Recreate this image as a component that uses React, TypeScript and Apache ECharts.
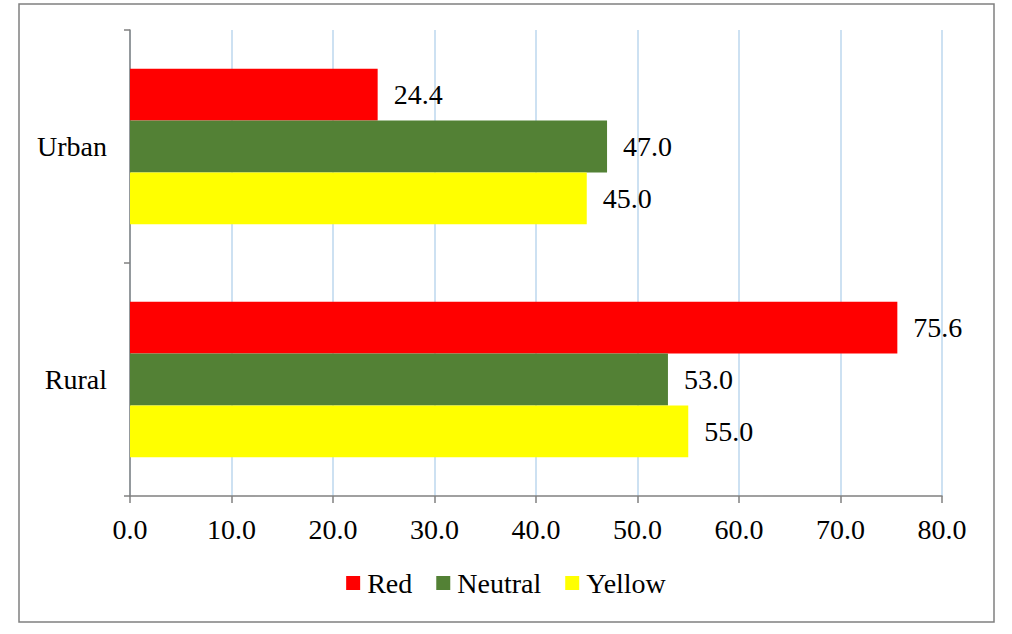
import React, { useEffect, useRef } from "react";
import * as echarts from "echarts";

const categories = ["Urban", "Rural"];
const redValues = [24.4, 75.6];
const neutralValues = [47.0, 53.0];
const yellowValues = [45.0, 55.0];
const seriesNames = ["Red", "Neutral", "Yellow"];
const xTicks = { min: 0, max: 80, interval: 10 };

const FONT = "Liberation Serif";
const FS = 28;

export default function App() {
  const ref = useRef<HTMLDivElement>(null);
  useEffect(() => {
    document.body.style.margin = "0";
    const chart = echarts.init(ref.current!, null, { renderer: "svg" });
    const label = {
      show: true,
      position: "right",
      distance: 16,
      fontFamily: FONT,
      fontSize: FS,
      color: "#000",
      formatter: (p: any) => Number(p.value).toFixed(1),
    };
    const colors = ["#FF0000", "#538135", "#FFFF00"];
    const dataSets = [redValues, neutralValues, yellowValues];
    chart.setOption({
      animation: false,
      backgroundColor: "#fff",
      textStyle: { fontFamily: FONT },
      graphic: [
        {
          type: "rect",
          shape: { x: 19, y: 4, width: 975, height: 618 },
          style: { fill: "none", stroke: "#808080", lineWidth: 1.5 },
          silent: true,
        },
      ],
      grid: { left: 130, right: 1012 - 942, top: 30, bottom: 634 - 496, containLabel: false },
      legend: {
        top: 564,
        left: "center",
        itemWidth: 14,
        itemHeight: 14,
        itemGap: 24,
        icon: "rect",
        textStyle: { fontFamily: FONT, fontSize: FS, color: "#000", padding: [0, 0, 0, 2] },
        data: seriesNames,
      },
      xAxis: {
        type: "value",
        min: xTicks.min,
        max: xTicks.max,
        interval: xTicks.interval,
        axisLine: { show: true, lineStyle: { color: "#808080", width: 1.5 } },
        axisTick: { show: true, length: 7, lineStyle: { color: "#808080", width: 1.5 } },
        splitLine: { show: true, lineStyle: { color: "#BDD7EE", width: 1.5 } },
        axisLabel: {
          fontFamily: FONT,
          fontSize: FS,
          color: "#000",
          margin: 19,
          formatter: (v: number) => v.toFixed(1),
        },
      },
      yAxis: {
        type: "category",
        data: categories,
        inverse: true,
        axisLine: { show: true, lineStyle: { color: "#808080", width: 1.5 } },
        axisTick: { show: true, length: 6, lineStyle: { color: "#808080", width: 1.5 } },
        axisLabel: { fontFamily: FONT, fontSize: FS, color: "#000", margin: 23 },
      },
      series: seriesNames.map((name, i) => ({
        name,
        type: "bar",
        data: dataSets[i],
        itemStyle: { color: colors[i] },
        barGap: "0%",
        barCategoryGap: "33.3%",
        label,
      })),
    });
    return () => chart.dispose();
  }, []);
  return <div ref={ref} style={{ width: 1012, height: 634 }} />;
}
